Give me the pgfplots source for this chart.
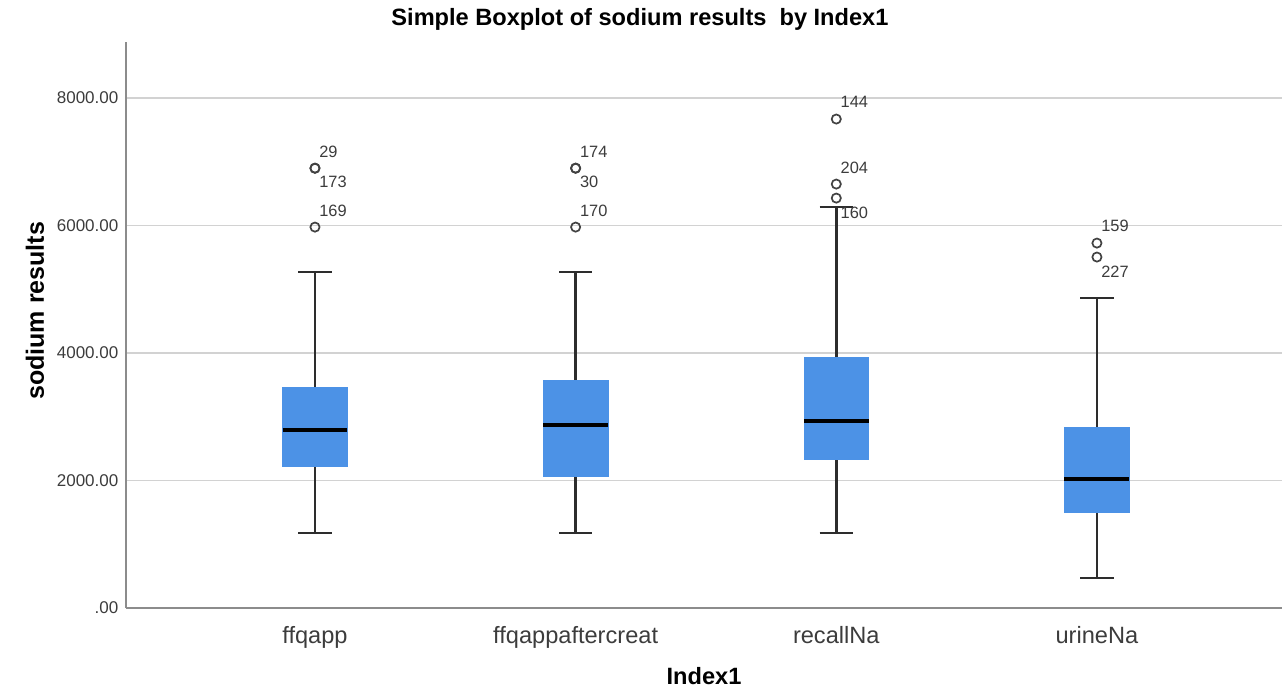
\documentclass[border=0pt]{standalone}
\usepackage{pgfplots}
\pgfplotsset{compat=1.18}
\usepackage{fontspec}
\setmainfont{Liberation Sans}
\definecolor{boxblue}{RGB}{76,146,230}
\definecolor{whisk}{RGB}{45,45,45}
\definecolor{gridc}{RGB}{210,210,210}
\definecolor{axisc}{RGB}{140,140,140}
\definecolor{txt}{RGB}{60,60,60}
\tikzset{lab/.style={font=\fontsize{8.2}{9}\selectfont, text=txt, inner sep=0pt, anchor=west, xshift=2pt}}
\begin{document}
\begin{tikzpicture}
\useasboundingbox (0,0) rectangle (642pt,343.5pt);
\begin{axis}[
  at={(63pt,39.5pt)}, anchor=south west,
  scale only axis, width=578pt, height=283pt,
  xmin=0.275, xmax=4.71, ymin=0, ymax=8880,
  axis x line=bottom, axis y line=left,
  axis line style={-, draw=axisc, line width=1pt},
  tick style={draw=none},
  xtick={1,2,3,4},
  xticklabels={ffqapp,ffqappaftercreat,recallNa,urineNa},
  ytick={0,2000,4000,6000,8000},
  yticklabels={.00,2000.00,4000.00,6000.00,8000.00},
  xticklabel style={font=\fontsize{11.8}{13}\selectfont, text=txt, anchor=north, inner sep=0pt, yshift=-7pt},
  yticklabel style={font=\fontsize{8.5}{10}\selectfont, text=txt, anchor=east, inner sep=0pt, xshift=-1.5pt},
  ymajorgrids, grid style={draw=gridc, line width=0.8pt},
  title={Simple Boxplot of sodium results\ \ by Index1},
  title style={font=\bfseries\fontsize{11.8}{13}\selectfont, at={(axis description cs:0.4446,1.018)}, anchor=center, inner sep=0pt, yshift=0pt},
  xlabel={Index1},
  xlabel style={font=\bfseries\fontsize{11.8}{13}\selectfont, at={(axis description cs:0.5,-0.120)}, anchor=center, inner sep=0pt},
  ylabel={sodium results},
  ylabel style={font=\bfseries\fontsize{12.5}{14}\selectfont, at={(axis description cs:-0.0787,0.525)}, anchor=center, inner sep=0pt},
  unbounded coords=jump,
]
% whiskers (line from box to whisker end, plus cap)
\addplot[draw=whisk, line width=1.4pt] coordinates {
(1,3459)(1,5271)(nan,nan)(0.9365,5271)(1.0635,5271)(nan,nan)
(1,2220)(1,1176)(nan,nan)(0.9365,1176)(1.0635,1176)(nan,nan)
(2,3576)(2,5271)(nan,nan)(1.9365,5271)(2.0635,5271)(nan,nan)
(2,2071)(2,1176)(nan,nan)(1.9365,1176)(2.0635,1176)(nan,nan)
(3,3937)(3,6290)(nan,nan)(2.9365,6290)(3.0635,6290)(nan,nan)
(3,2337)(3,1176)(nan,nan)(2.9365,1176)(3.0635,1176)(nan,nan)
(4,2839)(4,4863)(nan,nan)(3.9365,4863)(4.0635,4863)(nan,nan)
(4,1506)(4,471)(nan,nan)(3.9365,471)(4.0635,471)};
% boxes (lower quartile to upper quartile)
\addplot[fill=boxblue, draw=boxblue, line width=0.3pt] coordinates {(0.8755,2220)(1.1245,2220)(1.1245,3459)(0.8755,3459)} -- cycle;
\addplot[fill=boxblue, draw=boxblue, line width=0.3pt] coordinates {(1.8755,2071)(2.1245,2071)(2.1245,3576)(1.8755,3576)} -- cycle;
\addplot[fill=boxblue, draw=boxblue, line width=0.3pt] coordinates {(2.8755,2337)(3.1245,2337)(3.1245,3937)(2.8755,3937)} -- cycle;
\addplot[fill=boxblue, draw=boxblue, line width=0.3pt] coordinates {(3.8755,1506)(4.1245,1506)(4.1245,2839)(3.8755,2839)} -- cycle;
% medians
\addplot[draw=black, line width=2pt] coordinates {
(0.8755,2792)(1.1245,2792)(nan,nan)
(1.8755,2871)(2.1245,2871)(nan,nan)
(2.8755,2933)(3.1245,2933)(nan,nan)
(3.8755,2024)(4.1245,2024)};
% outliers
\addplot[only marks, mark=o, mark size=2.3pt, mark options={draw=whisk!90, line width=0.85pt}] coordinates {
(1,6902)(1,6898)(1,5976)
(2,6902)(2,6898)(2,5976)
(3,7671)(3,6651)(3,6431)
(4,5725)(4,5506)};
\node[lab, yshift=8.25pt] at (axis cs:1,6902) {29};
\node[lab, yshift=-6.75pt] at (axis cs:1,6902) {173};
\node[lab, yshift=8.25pt] at (axis cs:1,5976) {169};
\node[lab, yshift=8.25pt] at (axis cs:2,6902) {174};
\node[lab, yshift=-6.75pt] at (axis cs:2,6902) {30};
\node[lab, yshift=8.25pt] at (axis cs:2,5976) {170};
\node[lab, yshift=8.5pt] at (axis cs:3,7671) {144};
\node[lab, yshift=8.25pt] at (axis cs:3,6651) {204};
\node[lab, yshift=-7.5pt] at (axis cs:3,6431) {160};
\node[lab, yshift=8.5pt] at (axis cs:4,5725) {159};
\node[lab, yshift=-7.5pt] at (axis cs:4,5506) {227};
\end{axis}
\end{tikzpicture}
\end{document}
